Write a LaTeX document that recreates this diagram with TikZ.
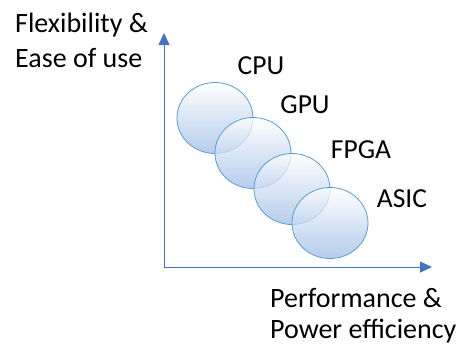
\documentclass[tikz,border=0pt]{standalone}
\usepackage{fontspec}
\setmainfont{Carlito}
\usetikzlibrary{arrows.meta,shapes.geometric}
\definecolor{axisblue}{RGB}{68,114,196}
\definecolor{rimblue}{RGB}{91,155,213}
\definecolor{fillblue}{RGB}{155,188,228}
\tikzset{
  chip/.style={ellipse, draw=rimblue, line width=0.8pt, minimum width=76pt, minimum height=71pt,
    inner sep=0pt, top color=white, bottom color=fillblue, fill opacity=0.75},
  txt/.style={font=\fontsize{27.5}{34}\selectfont, inner sep=0pt},
  axis/.style={draw=axisblue, line width=1pt, -{Triangle[length=12pt,width=11pt]}}
}
\begin{document}
\begin{tikzpicture}[x=1pt,y=-1pt]
  \useasboundingbox (0,0) rectangle (459,349);
  % axes
  \coordinate (origin) at (164,267);
  \coordinate (ytop) at (164,33);
  \coordinate (xend) at (432,267);
  \draw[axis] (origin) -- (ytop);
  \draw[axis] (origin) -- (xend);
  % devices
  \foreach \name/\cx/\cy/\lx/\ly/\lbl in {cpu/215/118/261/66/CPU, gpu/253/153/305/105/GPU,
      fpga/292/189/361/150/FPGA, asic/330/223/402/199/ASIC} {
    \node[chip] (\name) at (\cx,\cy) {};
    \node[txt] (\name-lbl) at (\lx,\ly) {\lbl};
  }
  % axis names
  \node[txt, font=\fontsize{28}{35}\selectfont, anchor=north west, align=left] (yname)
    at (15,13) {Flexibility \&\\Ease of use};
  \node[txt, font=\fontsize{28}{31}\selectfont, anchor=north west, align=left] (xname)
    at (270,288.3) {Performance \&\\Power efficiency};
\end{tikzpicture}
\end{document}
